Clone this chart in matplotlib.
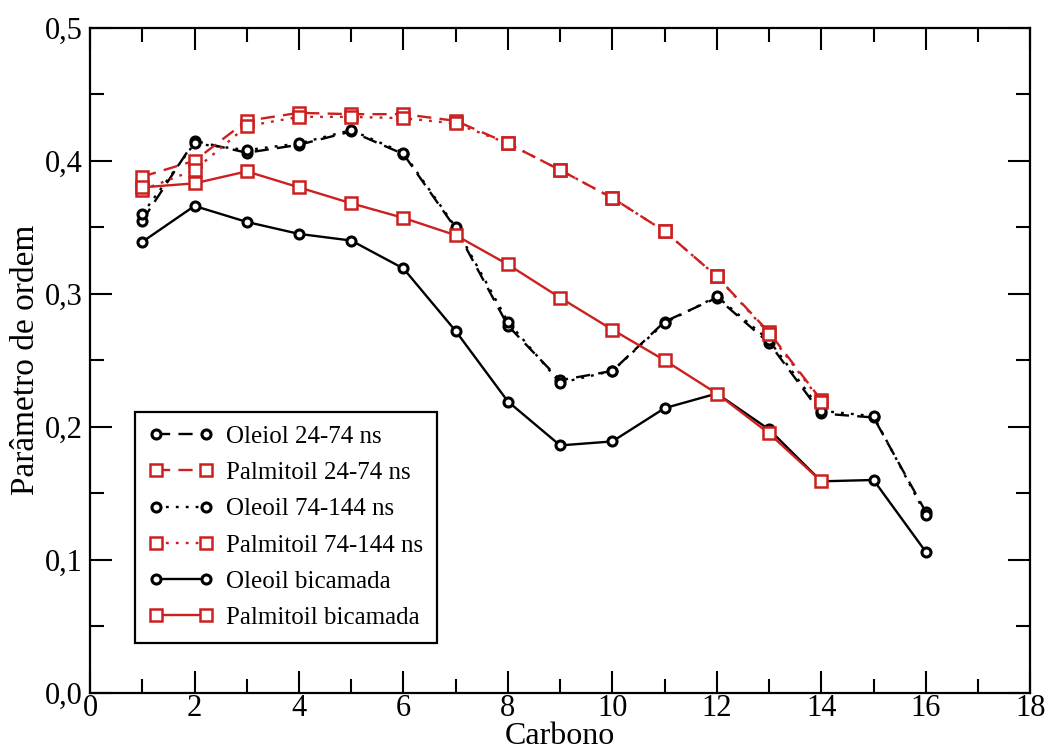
import numpy as np
import matplotlib
matplotlib.use('Agg')
import matplotlib.pyplot as plt
from matplotlib.ticker import MultipleLocator, FuncFormatter

plt.rcParams['font.family'] = ['Liberation Serif', 'DejaVu Serif']

# carbon index
carbon_ole = [1, 2, 3, 4, 5, 6, 7, 8, 9, 10, 11, 12, 13, 14, 15, 16]
carbon_pal = [1, 2, 3, 4, 5, 6, 7, 8, 9, 10, 11, 12, 13, 14]

oleoil_24_74 = [0.355, 0.415, 0.406, 0.412, 0.422, 0.405, 0.349, 0.276,
                0.235, 0.242, 0.279, 0.297, 0.263, 0.210, 0.207, 0.136]
oleoil_74_144 = [0.360, 0.413, 0.408, 0.413, 0.423, 0.406, 0.350, 0.279,
                 0.233, 0.242, 0.278, 0.298, 0.265, 0.212, 0.208, 0.134]
oleoil_bic = [0.339, 0.366, 0.354, 0.345, 0.340, 0.319, 0.272, 0.219,
              0.186, 0.189, 0.214, 0.225, 0.198, 0.159, 0.160, 0.106]

palm_24_74 = [0.388, 0.400, 0.430, 0.436, 0.435, 0.435, 0.430, 0.413,
              0.393, 0.372, 0.347, 0.313, 0.271, 0.220]
palm_74_144 = [0.378, 0.393, 0.426, 0.433, 0.433, 0.432, 0.428, 0.413,
               0.393, 0.372, 0.347, 0.313, 0.270, 0.219]
palm_bic = [0.380, 0.383, 0.392, 0.380, 0.368, 0.357, 0.344, 0.322,
            0.297, 0.273, 0.250, 0.225, 0.195, 0.159]

labels = ['Oleiol 24-74 ns', 'Palmitoil 24-74 ns', 'Oleoil 74-144 ns',
          'Palmitoil 74-144 ns', 'Oleoil bicamada', 'Palmitoil bicamada']

red = '#cc2020'
dash = (0, (6, 3.5))
dot = (0, (1.2, 3))

fig = plt.figure(figsize=(10.47, 7.49), dpi=100)
ax = fig.add_axes([0.086, 0.075, 0.898, 0.888])

circ = dict(marker='o', markersize=6.5, markerfacecolor='white',
            markeredgewidth=2.2, lw=1.7)
sq = dict(marker='s', markersize=9, markerfacecolor='white',
          markeredgewidth=1.8, lw=1.7)

ax.plot(carbon_ole, oleoil_24_74, color='black', linestyle=dash, label=labels[0], **circ)
ax.plot(carbon_pal, palm_24_74, color=red, linestyle=dash, label=labels[1], **sq)
ax.plot(carbon_ole, oleoil_74_144, color='black', linestyle=dot, label=labels[2], **circ)
ax.plot(carbon_pal, palm_74_144, color=red, linestyle=dot, label=labels[3], **sq)
ax.plot(carbon_ole, oleoil_bic, color='black', linestyle='-', label=labels[4], **circ)
ax.plot(carbon_pal, palm_bic, color=red, linestyle='-', label=labels[5], **sq)

ax.set_xlim(0, 18)
ax.set_ylim(0, 0.5)
ax.xaxis.set_major_locator(MultipleLocator(2))
ax.xaxis.set_minor_locator(MultipleLocator(1))
ax.yaxis.set_major_locator(MultipleLocator(0.1))
ax.yaxis.set_minor_locator(MultipleLocator(0.05))
ax.yaxis.set_major_formatter(FuncFormatter(lambda v, p: ('%.1f' % v).replace('.', ',')))

ax.tick_params(which='both', direction='in', top=True, right=True,
               labelsize=22, width=1.5, pad=5)
ax.tick_params(which='major', length=16)
ax.tick_params(which='minor', length=10)
ax.tick_params(axis='x', pad=1)
for s in ax.spines.values():
    s.set_linewidth(1.6)

ax.set_xlabel('Carbono', fontsize=23, labelpad=-1)
ax.set_ylabel('Parâmetro de ordem', fontsize=24, labelpad=3)

leg = ax.legend(loc='lower left', bbox_to_anchor=(0.048, 0.075), fontsize=18,
                fancybox=False, edgecolor='black', framealpha=1,
                numpoints=2, handlelength=2.6, handletextpad=0.5,
                borderpad=0.55, labelspacing=0.55, borderaxespad=0)
leg.get_frame().set_linewidth(1.6)

fig.savefig('out.png', dpi=100)
